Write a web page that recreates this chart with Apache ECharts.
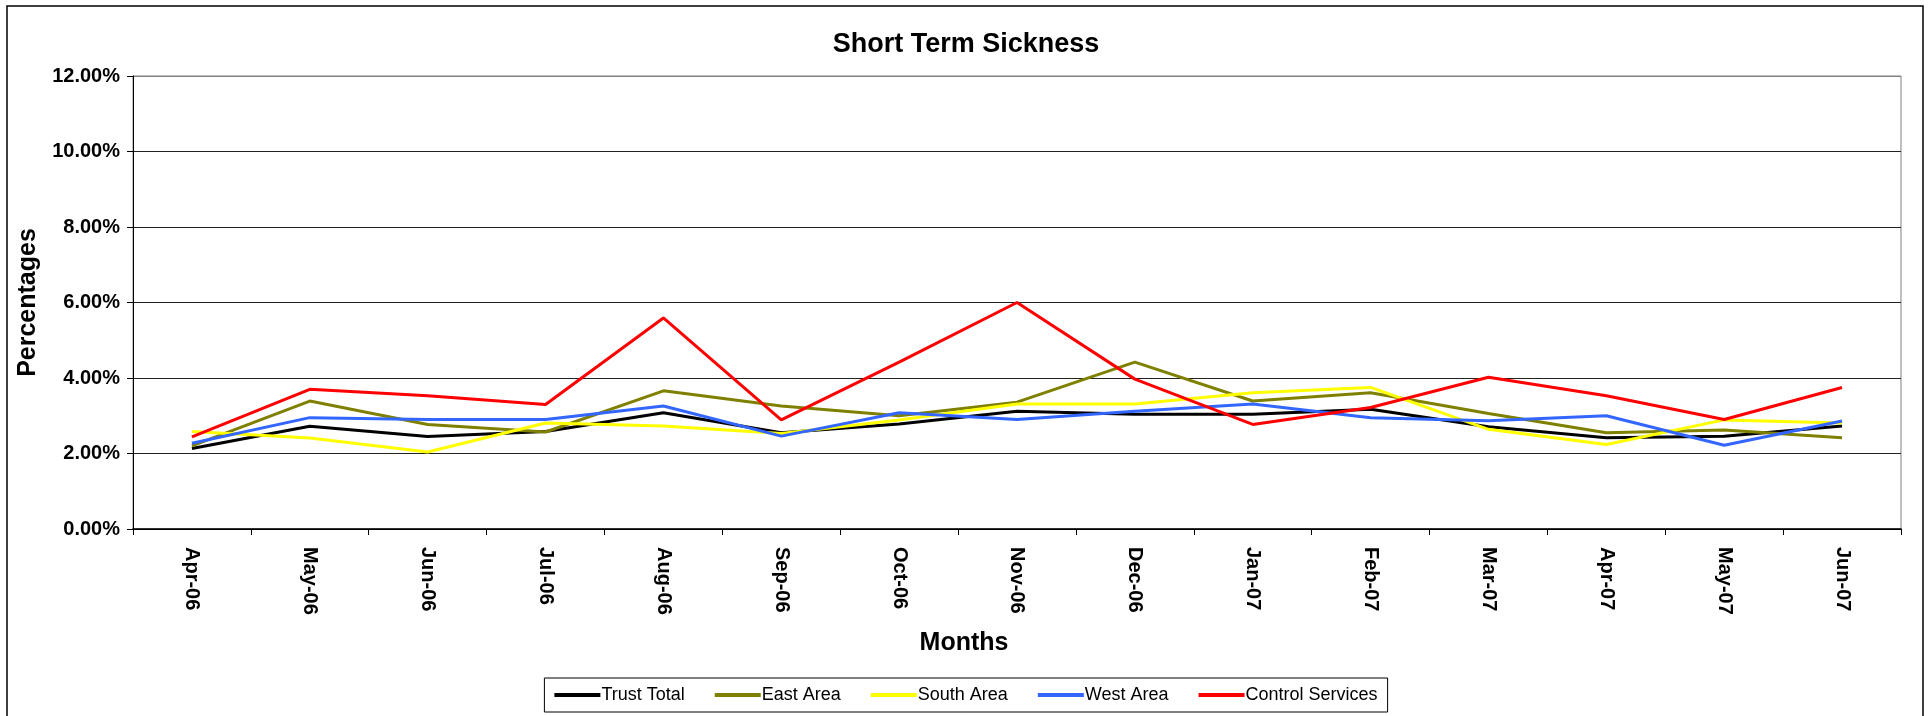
<!DOCTYPE html>
<html>
<head>
<meta charset="utf-8">
<title>Short Term Sickness</title>
<script src="https://cdn.jsdelivr.net/npm/echarts@6/dist/echarts.min.js"></script>
<style>
  html, body { margin: 0; padding: 0; background: #fff; }
  #myChart { width: 1932px; height: 716px; }
</style>
</head>
<body>
<div id="myChart"></div>
<script>
// months on the x axis
var months = ['Apr-06', 'May-06', 'Jun-06', 'Jul-06', 'Aug-06', 'Sep-06', 'Oct-06', 'Nov-06',
  'Dec-06', 'Jan-07', 'Feb-07', 'Mar-07', 'Apr-07', 'May-07', 'Jun-07'];
// values in percent
var trustTotal = [2.13, 2.72, 2.45, 2.58, 3.08, 2.55, 2.78, 3.12, 3.04, 3.04, 3.17, 2.71, 2.42, 2.46, 2.73];
var eastArea = [2.20, 3.39, 2.77, 2.57, 3.66, 3.26, 3.00, 3.36, 4.42, 3.39, 3.61, 3.06, 2.55, 2.62, 2.42];
var southArea = [2.58, 2.41, 2.04, 2.81, 2.73, 2.53, 2.89, 3.31, 3.31, 3.61, 3.75, 2.64, 2.24, 2.89, 2.81];
var westArea = [2.27, 2.95, 2.90, 2.90, 3.26, 2.46, 3.08, 2.90, 3.12, 3.31, 2.95, 2.87, 3.00, 2.22, 2.86];
var controlServices = [2.44, 3.70, 3.53, 3.30, 5.59, 2.89, 4.42, 6.00, 3.97, 2.77, 3.22, 4.02, 3.53, 2.90, 3.75];

var seriesNames = ['Trust Total', 'East Area', 'South Area', 'West Area', 'Control Services'];
var seriesColors = ['#000000', '#808000', '#ffff00', '#3366ff', '#ff0000'];
var seriesData = [trustTotal, eastArea, southArea, westArea, controlServices];

var font = 'Liberation Sans, Arial, sans-serif';

var chartInst = echarts.init(document.getElementById('myChart'));

var series = seriesNames.map(function (name, i) {
  return {
    name: name,
    type: 'line',
    data: seriesData[i],
    showSymbol: false,
    symbol: 'none',
    lineStyle: { width: 3, color: seriesColors[i] },
    itemStyle: { color: seriesColors[i] },
  };
});

chartInst.setOption({
  animation: false,
  backgroundColor: '#fff',
  // outer chart frame
  graphic: [
    {
      type: 'rect',
      shape: { x: 7, y: 6, width: 1916, height: 720 },
      style: { fill: 'none', stroke: '#000', lineWidth: 1.5 },
      silent: true,
    },
  ],
  title: {
    text: 'Short Term Sickness',
    left: 'center',
    top: 31,
    padding: 0,
    textStyle: { fontFamily: font, fontSize: 27, fontWeight: 'bold', color: '#000' },
  },
  legend: {
    data: seriesNames,
    left: 'center',
    top: 678,
    icon: 'rect',
    itemWidth: 46,
    itemHeight: 4,
    itemGap: 30,
    padding: [8, 10],
    borderColor: '#000',
    borderWidth: 1,
    textStyle: { fontFamily: font, fontSize: 18, color: '#000', padding: [0, 0, 0, -4] },
  },
  grid: {
    left: 133,
    right: 31,
    top: 76,
    bottom: 187,
    show: true,
    borderColor: '#808080',
    borderWidth: 1,
  },
  xAxis: {
    type: 'category',
    data: months,
    boundaryGap: true,
    name: 'Months',
    nameLocation: 'middle',
    nameGap: 102,
    nameTextStyle: {
      fontFamily: font,
      fontSize: 25,
      fontWeight: 'bold',
      color: '#000',
      padding: [0, 106, 0, 0], // centre on the page, not the plot
    },
    axisLine: { lineStyle: { color: '#000', width: 1.5 } },
    axisTick: { show: true, inside: false, length: 6, lineStyle: { color: '#000' } },
    axisLabel: {
      rotate: -90,
      margin: 18,
      fontFamily: font,
      fontSize: 20,
      fontWeight: 'bold',
      color: '#000',
    },
    splitLine: { show: false },
  },
  yAxis: {
    type: 'value',
    min: 0,
    max: 12,
    interval: 2,
    name: 'Percentages',
    nameLocation: 'middle',
    nameGap: 92,
    nameTextStyle: { fontFamily: font, fontSize: 25, fontWeight: 'bold', color: '#000' },
    axisLine: { show: true, lineStyle: { color: '#000', width: 1 } },
    axisTick: { show: true, length: 6, lineStyle: { color: '#000' } },
    axisLabel: {
      margin: 13,
      fontFamily: font,
      fontSize: 20,
      fontWeight: 'bold',
      color: '#000',
      formatter: function (v) {
        return v.toFixed(2) + '%';
      },
    },
    splitLine: {
      show: true,
      lineStyle: {
        color: ['#000', '#222', '#222', '#222', '#222', '#222', '#808080'],
        width: 1,
      },
    },
  },
  series: series,
});
</script>
</body>
</html>
